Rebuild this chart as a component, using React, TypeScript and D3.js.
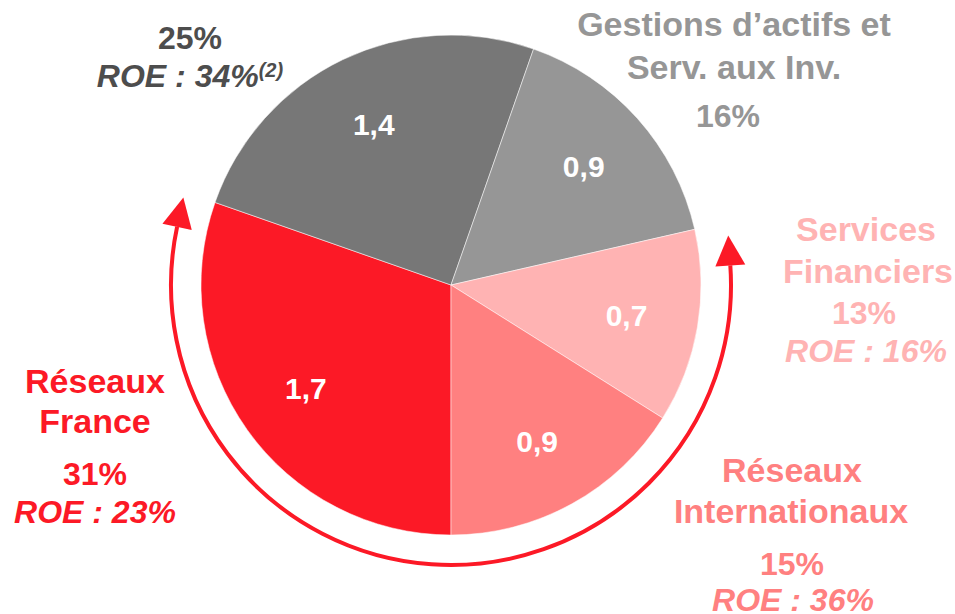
import React, { useEffect, useRef } from 'react';
import * as d3 from 'd3';

const segments = ['Réseaux France', 'Pôle 25%', 'Gestions d’actifs et Serv. aux Inv.', 'Services Financiers', 'Réseaux Internationaux'];
const values = [1.7, 1.4, 0.9, 0.7, 0.9];
const valueLabels = ['1,7', '1,4', '0,9', '0,7', '0,9'];
const shares = ['31%', '25%', '16%', '13%', '15%'];
const roes = ['ROE : 23%', 'ROE : 34%', '', 'ROE : 16%', 'ROE : 36%'];
const sliceColors = ['#FC1926', '#777777', '#969696', '#FFB3B3', '#FF8080'];
const textColors = ['#FC1926', '#4D4D4D', '#969696', '#FFB3B3', '#FF8080'];

const FONT = '"Liberation Sans", Arial, sans-serif';

export default function App() {
	const ref = useRef<SVGSVGElement>(null);

	useEffect(() => {
		const svg = d3.select(ref.current);
		svg.selectAll('*').remove();

		const cx = 451, cy = 285, radius = 250;
		const ringR = 280;

		const data = segments.map((name, i) => ({
			name,
			value: values[i],
			label: valueLabels[i],
			color: sliceColors[i]
		}));

		const pie = d3.pie<any>()
			.value(d => d.value)
			.sort(null)
			.startAngle(Math.PI)
			.endAngle(3 * Math.PI);

		const arc = d3.arc<any>().innerRadius(0).outerRadius(radius);
		const labelArc = d3.arc<any>().innerRadius(178).outerRadius(178);

		const g = svg.append('g').attr('transform', `translate(${cx},${cy})`);

		const arcs = pie(data);

		g.selectAll('path.slice')
			.data(arcs)
			.enter().append('path')
			.attr('class', 'slice')
			.attr('d', arc)
			.attr('fill', d => d.data.color)
			.attr('stroke', '#ffffff')
			.attr('stroke-opacity', 0.5)
			.attr('stroke-width', 1);

		g.selectAll('text.val')
			.data(arcs)
			.enter().append('text')
			.attr('class', 'val')
			.attr('transform', d => `translate(${labelArc.centroid(d)})`)
			.attr('dy', '0.36em')
			.attr('text-anchor', 'middle')
			.attr('fill', '#ffffff')
			.style('font', `bold 30px ${FONT}`)
			.text(d => d.data.label);

		// red ring with arrows around the retail segments (screen angles)
		const a0 = (192 * Math.PI) / 180;
		const a1 = (-4 * Math.PI) / 180;
		const p = d3.path();
		p.arc(0, 0, ringR, a0, a1, true);
		g.append('path')
			.attr('d', p.toString())
			.attr('fill', 'none')
			.attr('stroke', sliceColors[0])
			.attr('stroke-width', 4);

		const arrow = (theta: number, dir: number) => {
			const bx = ringR * Math.cos(theta);
			const by = ringR * Math.sin(theta);
			const tx = -Math.sin(theta) * dir;
			const ty = Math.cos(theta) * dir;
			const nx = -ty, ny = tx;
			const len = 30, half = 15;
			const pts = [
				[bx + tx * len, by + ty * len],
				[bx + nx * half, by + ny * half],
				[bx - nx * half, by - ny * half]
			];
			g.append('polygon')
				.attr('points', pts.map(q => q.join(',')).join(' '))
				.attr('fill', sliceColors[0]);
		};
		arrow(a0, 1);
		arrow(a1, -1);

		// outer labels
		const addText = (x: number, y: number, txt: string, color: string, size: number, italic = false) =>
			svg.append('text')
				.attr('x', x)
				.attr('y', y)
				.attr('text-anchor', 'middle')
				.attr('fill', color)
				.style('font', `${italic ? 'italic ' : ''}bold ${size}px ${FONT}`)
				.text(txt);

		// Réseaux France
		addText(95, 393, 'Réseaux', textColors[0], 34);
		addText(95, 433, 'France', textColors[0], 34);
		addText(95, 485, shares[0], textColors[0], 32);
		addText(95, 523, roes[0], textColors[0], 32, true);

		// 25% segment
		addText(190, 49, shares[1], textColors[1], 32);
		const roeTxt = addText(190, 87, roes[1], textColors[1], 32, true);
		roeTxt.append('tspan')
			.attr('dy', -10)
			.style('font-size', '20px')
			.text('(2)');

		// Gestions d'actifs
		addText(734, 36, 'Gestions d’actifs et', textColors[2], 34);
		addText(734, 79, 'Serv. aux Inv.', textColors[2], 34);
		addText(728, 127, shares[2], textColors[2], 32);

		// Services Financiers
		addText(866, 241, 'Services', textColors[3], 34);
		addText(868, 283, 'Financiers', textColors[3], 34);
		addText(864, 324, shares[3], textColors[3], 32);
		addText(866, 362, roes[3], textColors[3], 32, true);

		// Réseaux Internationaux
		addText(792, 482, 'Réseaux', textColors[4], 34);
		addText(791, 523, 'Internationaux', textColors[4], 34);
		addText(792, 575, shares[4], textColors[4], 32);
		addText(793, 611, roes[4], textColors[4], 32, true);
	}, []);

	return (
		<svg
			ref={ref}
			width={955}
			height={614}
			style={{ position: 'absolute', left: 0, top: 0, background: '#ffffff' }}
		/>
	);
}
